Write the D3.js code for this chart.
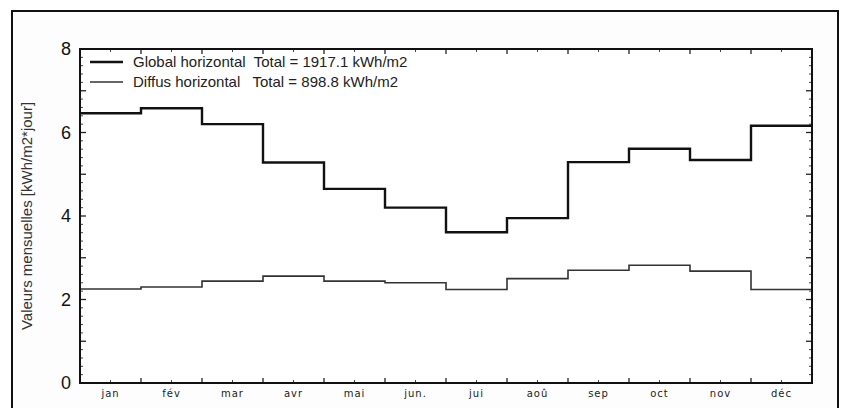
<!DOCTYPE html>
<html><head><meta charset="utf-8">
<script src="https://cdn.jsdelivr.net/npm/d3@7"></script>
<style>
html,body{margin:0;padding:0;background:#fff;}
svg{display:block;}
</style></head>
<body>
<svg id="chart" width="842" height="408"></svg>
<script>
const months = ["jan","fév","mar","avr","mai","jun.","jui","aoû","sep","oct","nov","déc"];
const globalValues = [6.46,6.58,6.20,5.28,4.65,4.20,3.61,3.95,5.29,5.61,5.34,6.16];
const diffusValues = [2.25,2.30,2.44,2.56,2.44,2.40,2.24,2.50,2.70,2.82,2.68,2.24];
const yTicks = [0,2,4,6,8];
const legendLabels = ["Global horizontal  Total = 1917.1 kWh/m2","Diffus horizontal   Total = 898.8 kWh/m2"];
const yTitle = "Valeurs mensuelles [kWh/m2*jour]";

const svg = d3.select("#chart");
const m = {left:80, right:812, top:49, bottom:383};

// outer frame
svg.append("rect").attr("x",12).attr("y",11).attr("width",826).attr("height",460)
  .attr("fill","#fdfdfd").attr("stroke","#111").attr("stroke-width",2);

const x = d3.scaleLinear().domain([0,12]).range([m.left,m.right]);
const y = d3.scaleLinear().domain([0,8]).range([m.bottom,m.top]);

const g = svg.append("g");
g.append("rect").attr("x",m.left).attr("y",m.top).attr("width",m.right-m.left).attr("height",m.bottom-m.top)
  .attr("fill","#fff");

// ticks (inward)
const minorY = d3.range(0,8.001,0.2).filter(v=>Math.abs(v-Math.round(v))>1e-6);
const majorY = d3.range(0,9,1);
function yTickLines(xPos, dir){
  g.selectAll(null).data(majorY).enter().append("line")
    .attr("x1",xPos).attr("x2",xPos+dir*6).attr("y1",d=>y(d)).attr("y2",d=>y(d))
    .attr("stroke","#222").attr("stroke-width",1.3);
  g.selectAll(null).data(minorY).enter().append("line")
    .attr("x1",xPos).attr("x2",xPos+dir*3).attr("y1",d=>y(d)).attr("y2",d=>y(d))
    .attr("stroke","#444").attr("stroke-width",1);
}
yTickLines(m.left,1);
yTickLines(m.right,-1);
const majorX = d3.range(0,13,1);
const minorX = d3.range(0.5,12,1);
function xTickLines(yPos, dir){
  g.selectAll(null).data(majorX).enter().append("line")
    .attr("y1",yPos).attr("y2",yPos+dir*5).attr("x1",d=>x(d)).attr("x2",d=>x(d))
    .attr("stroke","#222").attr("stroke-width",1.3);
  g.selectAll(null).data(minorX).enter().append("line")
    .attr("y1",yPos).attr("y2",yPos+dir*3).attr("x1",d=>x(d)).attr("x2",d=>x(d))
    .attr("stroke","#444").attr("stroke-width",1);
}
xTickLines(m.bottom,-1);
xTickLines(m.top,1);

function stepData(vals){
  const pts=[];
  vals.forEach((v,i)=>{pts.push([i,v]);pts.push([i+1,v]);});
  return pts;
}
const line = d3.line().x(d=>x(d[0])).y(d=>y(d[1]));
g.append("path").attr("d",line(stepData(diffusValues))).attr("fill","none")
  .attr("stroke","#333").attr("stroke-width",1.6);
g.append("path").attr("d",line(stepData(globalValues))).attr("fill","none")
  .attr("stroke","#111").attr("stroke-width",2.4);

g.append("rect").attr("x",m.left).attr("y",m.top).attr("width",m.right-m.left).attr("height",m.bottom-m.top)
  .attr("fill","none").attr("stroke","#111").attr("stroke-width",2);

// y labels
g.selectAll(null).data(yTicks).enter().append("text")
  .attr("x",71).attr("y",d=>y(d)).attr("dy","0.35em").attr("text-anchor","end")
  .attr("font-family","Liberation Sans, Arial, sans-serif").attr("font-size",18).attr("fill","#111")
  .text(d=>d);

// month labels
g.selectAll(null).data(months).enter().append("text")
  .attr("x",(d,i)=>x(i+0.5)).attr("y",397).attr("text-anchor","middle")
  .attr("font-family","DejaVu Sans, sans-serif").attr("font-size",10).attr("letter-spacing","1px").attr("fill","#222")
  .text(d=>d);

// y title
svg.append("text").attr("transform",`translate(32,${(m.top+m.bottom)/2}) rotate(-90)`)
  .attr("text-anchor","middle").attr("font-family","Liberation Sans, Arial, sans-serif")
  .attr("font-size",15).attr("fill","#333").text(yTitle);

// legend
const legW = [2.4,1.6];
const legC = ["#111","#333"];
legendLabels.forEach((t,i)=>{
  const ly = 62 + i*20;
  svg.append("line").attr("x1",90).attr("x2",123).attr("y1",ly).attr("y2",ly)
    .attr("stroke",legC[i]).attr("stroke-width",legW[i]);
  svg.append("text").attr("x",133).attr("y",ly).attr("dy","0.36em")
    .attr("font-family","Liberation Sans, Arial, sans-serif").attr("font-size",15).attr("fill","#222")
    .attr("xml:space","preserve").style("white-space","pre").text(t);
});
</script>
</body></html>
